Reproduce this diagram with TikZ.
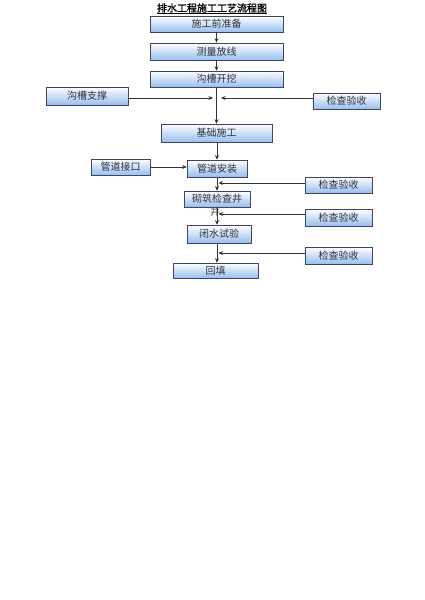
\documentclass[tikz,border=0pt]{standalone}
\usepackage{fontspec}
\newfontfamily\cjk{Noto Sans CJK SC}
\newfontfamily\cjkbold[FakeBold=1.5]{Noto Sans CJK SC}
\usetikzlibrary{arrows.meta,shadows}
\definecolor{boxedge}{HTML}{3C4660}
\definecolor{boxbot}{HTML}{98BEEE}
\definecolor{txt}{HTML}{2E3140}
\tikzset{
  procbox/.style={draw=boxedge, line width=0.6pt, top color=white, bottom color=boxbot,
    font=\cjk\fontsize{10}{10}\selectfont, text=txt, inner sep=0pt,
    drop shadow={shadow xshift=1.3pt, shadow yshift=-1.3pt, fill=black!60, opacity=0.8}},
  flow/.style={draw=black!80, line width=0.7pt, -{Stealth[length=4.5pt,width=4pt]}},
}
\begin{document}
\begin{tikzpicture}[x=1pt,y=-1pt]
\useasboundingbox[fill=white] (0,0) rectangle (425,600);
% title
\node[inner sep=0pt, text=black, font=\cjkbold\fontsize{10}{10}\selectfont] (title) at (212,8) {排水工程施工工艺流程图};
\draw[line width=0.7pt] ([yshift=-1.5pt]title.base west) -- ([yshift=-1.5pt]title.base east);
% main column
\node[procbox, minimum width=133pt, minimum height=16pt] (b1) at (216.5,24) {施工前准备};
\node[procbox, minimum width=133pt, minimum height=17pt] (b2) at (216.5,51.5) {测量放线};
\node[procbox, minimum width=133pt, minimum height=16pt] (b3) at (216.5,79) {沟槽开挖};
\node[procbox, minimum width=111pt, minimum height=18pt] (b4) at (216.5,133) {基础施工};
\node[procbox, minimum width=60pt, minimum height=17pt] (b5) at (217,168.5) {管道安装};
\node[procbox, minimum width=66pt, minimum height=16pt] (b6) at (217,199) {砌筑检查井};
\node[procbox, minimum width=64pt, minimum height=18pt] (b7) at (219,234) {闭水试验};
\node[procbox, minimum width=85pt, minimum height=15pt] (b8) at (215.5,270.5) {回填};
% side boxes
\node[procbox, minimum width=82pt, minimum height=18pt] (L1) at (87,96) {沟槽支撑};
\node[procbox, minimum width=59pt, minimum height=16pt] (L2) at (120.5,167) {管道接口};
\node[procbox, minimum width=67pt, minimum height=16pt] (R1) at (346.5,101) {检查验收};
\node[procbox, minimum width=67pt, minimum height=16pt] (R2) at (338.5,185) {检查验收};
\node[procbox, minimum width=67pt, minimum height=17pt] (R3) at (338.5,217.5) {检查验收};
\node[procbox, minimum width=67pt, minimum height=17pt] (R4) at (338.5,255.5) {检查验收};
% overflow character
\node[inner sep=0pt, text=txt!80, font=\cjk\fontsize{10}{10}\selectfont] (of) at (215,212) {井};
% spine coordinates
\coordinate (sp) at (217,0);
\coordinate (jl) at (213,98);
\coordinate (jr) at (221,98);
\coordinate (a2) at (218.5,183);
\coordinate (a3) at (218.5,214);
\coordinate (a4) at (218.5,253);
% connectors
\draw[flow] (b1) -- (b2);
\draw[flow] (b2) -- (b3);
\draw[flow] (b3) -- (b4);
\draw[flow] (L1.east |- jl) -- (jl);
\draw[flow] (R1.west |- jr) -- (jr);
\draw[flow] (b4.south -| sp) -- (b5.north -| sp);
\draw[flow] (L2.east) -- (L2.east -| b5.west);
\draw[flow] (b5.south -| sp) -- (b6.north -| sp);
\draw[flow] (R2.west |- a2) -- (a2);
\draw[flow] (b6.south -| sp) -- (b7.north -| sp);
\draw[flow] (R3.west |- a3) -- (a3);
\draw[flow] (b7.south -| sp) -- (b8.north -| sp);
\draw[flow] (R4.west |- a4) -- (a4);
\end{tikzpicture}
\end{document}
